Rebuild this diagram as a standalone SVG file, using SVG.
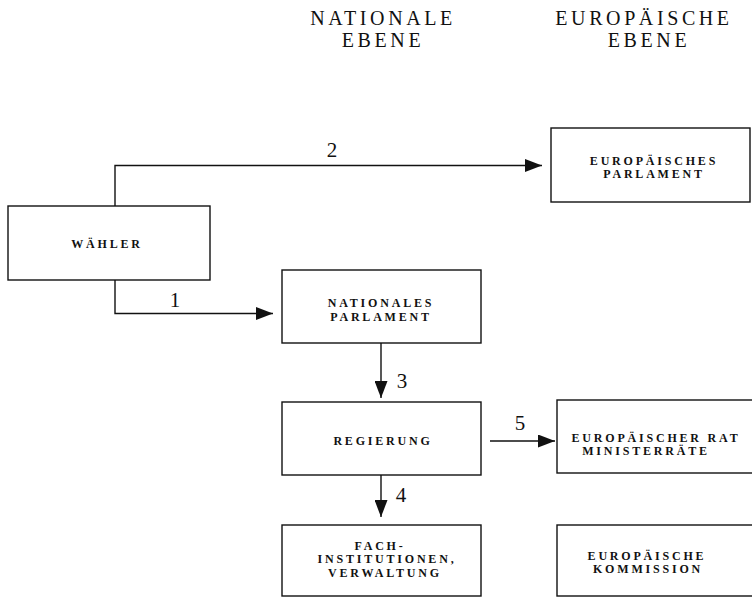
<svg xmlns="http://www.w3.org/2000/svg" width="752" height="598" viewBox="0 0 752 598">
<style>
.box{fill:#fff;stroke:#111;stroke-width:1.4}
.lbl{font-family:"Liberation Serif","Times New Roman",serif;font-weight:bold;font-size:12px;letter-spacing:2.8px;text-anchor:middle;fill:#111}
.hdr{font-family:"Liberation Serif","Times New Roman",serif;font-size:20px;letter-spacing:3.6px;text-anchor:middle;fill:#111}
.num{font-family:"Liberation Serif","Times New Roman",serif;font-size:21px;text-anchor:middle;fill:#111}
.con{fill:none;stroke:#111;stroke-width:1.4}
</style>
<defs>
<marker id="ah" markerWidth="17" markerHeight="13" refX="17" refY="6.5" orient="auto" markerUnits="userSpaceOnUse">
<path d="M0,0 L17,6.5 L0,13 Z" fill="#111"/>
</marker>
</defs>
<rect width="752" height="598" fill="#fff"/>
<g id="headers">
<text class="hdr" x="383" y="25">NATIONALE</text>
<text class="hdr" x="383" y="47">EBENE</text>
<text class="hdr" x="644" y="25">EUROPÄISCHE</text>
<text class="hdr" x="649" y="47">EBENE</text>
</g>
<g id="connectors">
<path class="con" d="M115,206 V165.5 H542" marker-end="url(#ah)"/>
<path class="con" d="M115,280 V313.5 H273" marker-end="url(#ah)"/>
<path class="con" d="M381,343 V398" marker-end="url(#ah)"/>
<path class="con" d="M381,475 V517" marker-end="url(#ah)"/>
<path class="con" d="M490,441 H555" marker-end="url(#ah)"/>
<text class="num" x="332" y="157">2</text>
<text class="num" x="175" y="307">1</text>
<text class="num" x="402" y="388">3</text>
<text class="num" x="401" y="502">4</text>
<text class="num" x="520" y="430">5</text>
</g>
<g id="waehler">
<rect class="box" x="8" y="206" width="202" height="74"/>
<text class="lbl" x="107" y="248">WÄHLER</text>
</g>
<g id="eu-parlament">
<rect class="box" x="551" y="128" width="199" height="74"/>
<text class="lbl" x="654" y="165">EUROPÄISCHES</text>
<text class="lbl" x="654" y="178">PARLAMENT</text>
</g>
<g id="nat-parlament">
<rect class="box" x="282" y="270" width="199" height="73"/>
<text class="lbl" x="381" y="307">NATIONALES</text>
<text class="lbl" x="381" y="321">PARLAMENT</text>
</g>
<g id="regierung">
<rect class="box" x="282" y="402" width="199" height="73"/>
<text class="lbl" x="383" y="445">REGIERUNG</text>
</g>
<g id="eu-rat">
<rect class="box" x="557" y="400" width="210" height="73"/>
<text class="lbl" x="656" y="442">EUROPÄISCHER RAT</text>
<text class="lbl" x="646" y="455">MINISTERRÄTE</text>
</g>
<g id="fach">
<rect class="box" x="282" y="525" width="199" height="71"/>
<text class="lbl" x="380" y="550">FACH-</text>
<text class="lbl" x="387" y="563">INSTITUTIONEN,</text>
<text class="lbl" x="385" y="577">VERWALTUNG</text>
</g>
<g id="eu-kommission">
<rect class="box" x="557" y="525" width="210" height="71"/>
<text class="lbl" x="647" y="560">EUROPÄISCHE</text>
<text class="lbl" x="648" y="573">KOMMISSION</text>
</g>
</svg>
